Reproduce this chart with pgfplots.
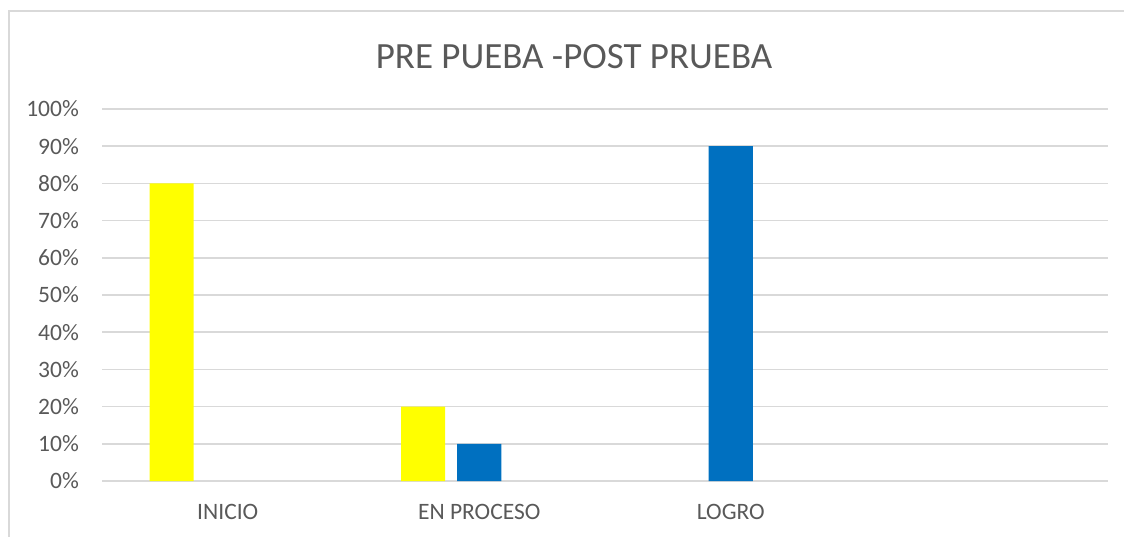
\documentclass[border=0pt]{standalone}
\usepackage{fontspec}
\setmainfont{Carlito}
\usepackage{pgfplots}
\pgfplotsset{compat=1.18}
\definecolor{txt}{HTML}{595959}
\definecolor{gridc}{HTML}{D9D9D9}
\definecolor{yel}{HTML}{FFFF00}
\definecolor{blu}{HTML}{0070C0}
\begin{document}
\begin{tikzpicture}[x=1pt,y=1pt]
\useasboundingbox (0,0) rectangle (1124,-537);
\draw[gridc, line width=1.2pt] (9,-560) -- (9,-11) -- (1140,-11);
\node[txt, font=\fontsize{37}{44}\selectfont, inner sep=0pt] at (574,-57) {PRE PUEBA -POST PRUEBA};
\begin{axis}[at={(102pt,-481pt)}, anchor=south west, scale only axis,
  width=1006pt, height=372pt,
  xmin=-0.5, xmax=3.5, ymin=0, ymax=100,
  axis line style={draw=none}, major tick length=0pt,
  ymajorgrids, grid style={gridc, line width=1.5pt},
  ytick={0,10,...,100},
  /pgf/number format/assume math mode=true,
  yticklabel={\pgfmathprintnumber{\tick}\%},
  xtick={0,1,2}, xticklabels={INICIO, EN PROCESO, LOGRO},
  ticklabel style={txt, font=\fontsize{23.5}{28}\selectfont, inner sep=0pt},
  yticklabel style={anchor=east, xshift=-23pt},
  xticklabel style={anchor=center, yshift=-31pt},
  ybar, bar width=0.175,
  unbounded coords=discard,
  y filter/.expression={y==0 ? nan : y},
  clip=false]
\addplot[fill=yel, draw=none, bar shift=-0.2227] coordinates {(0,80) (1,20) (2,0)};
\addplot[fill=blu, draw=none, bar shift=0] coordinates {(0,0) (1,10) (2,90)};
\end{axis}
\end{tikzpicture}
\end{document}
